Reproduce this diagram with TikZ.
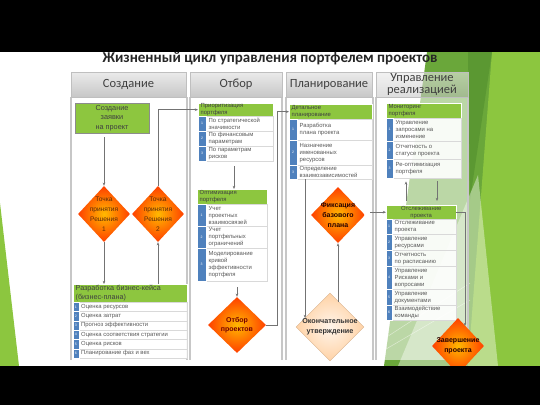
\documentclass[tikz,border=0pt]{standalone}
\usepackage{fontspec}
\setmainfont{Liberation Sans}
\newfontfamily\carl{Carlito}
\usetikzlibrary{shapes.geometric,arrows.meta,calc}
\definecolor{hgreen}{HTML}{8DC63F}
\definecolor{nblue}{HTML}{4F81BD}
\definecolor{rtext}{HTML}{595959}
\definecolor{htext}{HTML}{3F3F3F}
\definecolor{dtext}{HTML}{5A2A0A}
\definecolor{bgreen}{HTML}{6AA73A}
\definecolor{lime}{HTML}{8CC63F}
\definecolor{dgreen}{HTML}{4E8A2C}
\newcommand{\lrow}[8]{%
  \node[rowbox, minimum width=#4pt, minimum height=#5pt, anchor=north west] (#1) at (#2,#3) {};
  \node[numbox, minimum width=#6pt, minimum height=#5pt, anchor=north west] (#1n) at (#2,#3) {#7};
  \node[rowtext, anchor=west] (#1t) at ([xshift=#6pt+2.5pt]#1.west) {#8};
}
\begin{document}
\begin{tikzpicture}[x=1pt,y=-1pt,
  rowbox/.style={draw=black!15, fill=white, fill opacity=.9, line width=.4pt, inner sep=0pt},
  numbox/.style={fill=nblue, draw=white, line width=.3pt, inner sep=0pt, text=white, font=\fontsize{3.5}{4}\selectfont},
  rowtext/.style={inner sep=0pt, align=left, text=rtext, font=\fontsize{5.9}{6.9}\selectfont},
  ghead/.style={fill=hgreen, draw=white, line width=.4pt, inner xsep=2.5pt, inner ysep=0pt, align=left, text=htext, anchor=north west, font=\fontsize{5.9}{6.8}\selectfont},
  tab/.style={rectangle, draw=black!25, line width=.5pt, top color=black!8, bottom color=black!22, text=black!75, align=center, font=\carl\fontsize{12.5}{12}\selectfont, inner sep=0pt},
  odia/.style={diamond, inner sep=0pt, draw=none, inner color=orange!55!yellow, outer color=red!50!orange},
  dlabel/.style={align=center, inner sep=0pt, text=dtext, font=\fontsize{6.6}{10}\selectfont},
  blabel/.style={align=center, inner sep=0pt, font=\bfseries\fontsize{7}{9.6}\selectfont},
  arr/.style={draw=black!55, line width=.6pt, -{Stealth[length=3.2pt,width=2.6pt]}}
]
\useasboundingbox (0,0) rectangle (540,405);
\fill[black] (0,0) rectangle (540,405);
\fill[white] (0,52) rectangle (540,366);
% green decoration
\fill[lime] (0,203) -- (19,366) -- (0,366) -- cycle;
\fill[bgreen] (427,52) -- (540,52) -- (540,366) -- (384,366) -- cycle;
\fill[lime] (492,52) -- (540,52) -- (540,366) -- (468,366) -- cycle;
\fill[dgreen, opacity=.5] (468,52) -- (492,52) -- (470,200) -- cycle;
\fill[white, opacity=.4] (478,175) -- (398,366) -- (498,366) -- cycle;
\draw[white, opacity=.5, line width=.5pt] (345,364) -- (470,283);
\draw[white, opacity=.5, line width=.5pt] (357,366) -- (470,300);
% column panels
\foreach \xa/\xb/\op in {71/187/.92, 190/282/.92, 286/373/.92, 376/468/.55}{
  \fill[white, opacity=\op] (\xa,97) rectangle (\xb,360);
  \draw[black!22, line width=1.3pt] (\xa,97) -- (\xa,360) (\xb,97) -- (\xb,360);
}
% tabs
\node[tab, minimum width=115pt, minimum height=25pt] (tab1) at (128.5,84.5) {Создание};
\node[tab, minimum width=92pt, minimum height=25pt] (tab2) at (236,84.5) {Отбор};
\node[tab, minimum width=86pt, minimum height=25pt] (tab3) at (329,84.5) {\raisebox{-2pt}{Планирование}};
\node[tab, minimum width=92pt, minimum height=25pt, fill opacity=.6, text opacity=1] (tab4) at (422,84.5) {Управление\\реализацией};
% title
\node[font=\carl\bfseries\fontsize{15}{16}\selectfont, text=black!85, inner sep=0pt] (title) at (270,59) {Жизненный цикл управления портфелем проектов};

% ---- column 1
\node[fill=hgreen, draw=black!45, line width=.5pt, minimum width=74pt, minimum height=30pt, inner sep=0pt, align=center, text=htext, font=\fontsize{7.3}{9.6}\selectfont] (req) at (112,118) {Создание\\заявки\\на проект};
\node[odia, minimum width=52pt, minimum height=56pt] (d1) at (104,214) {};
\node[dlabel] (d1t) at (d1) {Точка\\принятия\\Решения\\1};
\node[odia, minimum width=52pt, minimum height=56pt] (d2) at (158,214) {};
\node[dlabel] (d2t) at (d2) {Точка\\принятия\\Решения\\2};
\node[ghead, text width=109pt, minimum height=18pt, font=\fontsize{7.2}{9.4}\selectfont] (bizh) at (73,284) {Разработка бизнес-кейса\\(бизнес-плана)};
\lrow{b1}{73}{302}{114}{9.3}{5.5}{1}{Оценка ресурсов}
\lrow{b2}{73}{311.3}{114}{9.3}{5.5}{2}{Оценка затрат}
\lrow{b3}{73}{320.6}{114}{9.3}{5.5}{3}{Прогноз эффективности}
\lrow{b4}{73}{329.9}{114}{9.3}{5.5}{4}{Оценка соответствия стратегии}
\lrow{b5}{73}{339.2}{114}{9.3}{5.5}{5}{Оценка рисков}
\lrow{b6}{73}{348.5}{114}{9.3}{5.5}{6}{Планирование фаз и вех}

% ---- column 2
\node[ghead, text width=70pt, minimum height=13pt] (prio) at (198,103) {Приоритизация\\портфеля};
\lrow{p1}{198}{116}{75}{15}{8}{1}{По стратегической\\значимости}
\lrow{p2}{198}{131}{75}{15}{8}{2}{По финансовым\\параметрам}
\lrow{p3}{198}{146}{75}{15}{8}{3}{По параметрам\\рисков}
\node[ghead, text width=65pt, minimum height=15pt] (opt) at (197,189) {Оптимизация\\портфеля};
\lrow{o1}{197}{204}{70}{22}{9}{1}{Учет\\проектных\\взаимосвязей}
\lrow{o2}{197}{226}{70}{22}{9}{2}{Учет\\портфельных\\ограничений}
\lrow{o3}{197}{248}{70}{33}{9}{3}{Моделирование\\кривой\\эффективности\\портфеля}
\node[odia, minimum width=58pt, minimum height=56pt] (d3) at (237,325) {};
\node[blabel, text=red!45!black] (d3t) at (d3) {Отбор\\проектов};

% ---- column 3
\node[ghead, text width=78pt, minimum height=15pt] (det) at (289,104) {Детальное\\планирование};
\lrow{t1}{289}{119}{83}{21}{8}{1}{Разработка\\плана проекта}
\lrow{t2}{289}{140}{83}{25}{8}{2}{Назначение\\именованных\\ресурсов}
\lrow{t3}{289}{165}{83}{14}{8}{3}{Определение\\взаимозависимостей}
\node[odia, minimum width=54pt, minimum height=56pt] (d4) at (338,215) {};
\node[blabel, text=black!85!red, font=\bfseries\fontsize{7}{10}\selectfont] (d4t) at (d4) {Фиксация\\базового\\плана};
\node[diamond, inner sep=0pt, draw=brown!60, line width=.4pt, inner color=orange!8, outer color=orange!35, minimum width=68pt, minimum height=68pt] (d5) at (330,327) {};
\node[blabel, text=black!80, font=\bfseries\fontsize{7.2}{9.6}\selectfont] (d5t) at (d5) {Окончательное\\утверждение};

% ---- column 4
\node[ghead, text width=70pt, minimum height=15pt] (mon) at (386,103) {Мониторинг\\портфеля};
\lrow{m1}{386}{118}{75}{23}{7}{1}{Управление\\запросами на\\изменение}
\lrow{m2}{386}{141}{75}{18}{7}{2}{Отчетность о\\статусе проекта}
\lrow{m3}{386}{159}{75}{19}{7}{3}{Ре-оптимизация\\портфеля}
\node[ghead, text width=65pt, minimum height=14pt, align=center] (tr) at (386,205) {Отслеживание\\проекта};
\lrow{r1}{386}{219}{70}{15}{6}{1}{Отслеживание\\проекта}
\lrow{r2}{386}{234}{70}{16}{6}{2}{Управление\\ресурсами}
\lrow{r3}{386}{250}{70}{16}{6}{3}{Отчетность\\по расписанию}
\lrow{r4}{386}{266}{70}{23}{6}{4}{Управление\\Рисками и\\вопросами}
\lrow{r5}{386}{289}{70}{16}{6}{5}{Управление\\документами}
\lrow{r6}{386}{305}{70}{15}{6}{6}{Взаимодействие\\команды}
\node[odia, minimum width=52pt, minimum height=56pt] (d6) at (458,346) {};
\node[blabel, text=black!85!red] (d6t) at (d6) {Завершение\\проекта};

% ---- connectors
\coordinate (d5in) at (305,318);
\coordinate (d5up) at (338,302);
\coordinate (d6in) at (465,326);
\coordinate (upx) at (406,0);
\coordinate (dnx) at (437,0);
\draw[arr, shorten <=4pt] (req.south -| d1) -- (d1.north);
\draw[arr] (d1.south) -- (d1.south |- bizh.north);
\draw[arr] (bizh.north -| d2) -- (d2.south);
\draw[arr] (d2.north) |- (prio.west);
\draw[arr, shorten <=5pt] (p3.south -| 234,0) -- (opt.north -| 234,0);
\draw[arr, shorten <=6pt] (o3.south -| d3) -- (d3.north);
\draw[arr] (d3.east) -- ++(11,0) |- (det.west);
\draw[arr] (t3.south -| d5in) -- (d5in);
\draw[arr] (d5up) -- (d4.south);
\draw[arr, shorten <=5pt] (tr.west -| d4.east) -- (tr.west);
\draw[arr, shorten <=4pt, shorten >=3pt] (tr.north -| upx) -- (m3.south -| upx);
\draw[arr, shorten <=3pt, shorten >=4pt] (m3.south -| dnx) -- (tr.north -| dnx);
\draw[arr] (tr.east) -| (d6in);

\fill[black] (0,366) rectangle (540,405);
\end{tikzpicture}
\end{document}
